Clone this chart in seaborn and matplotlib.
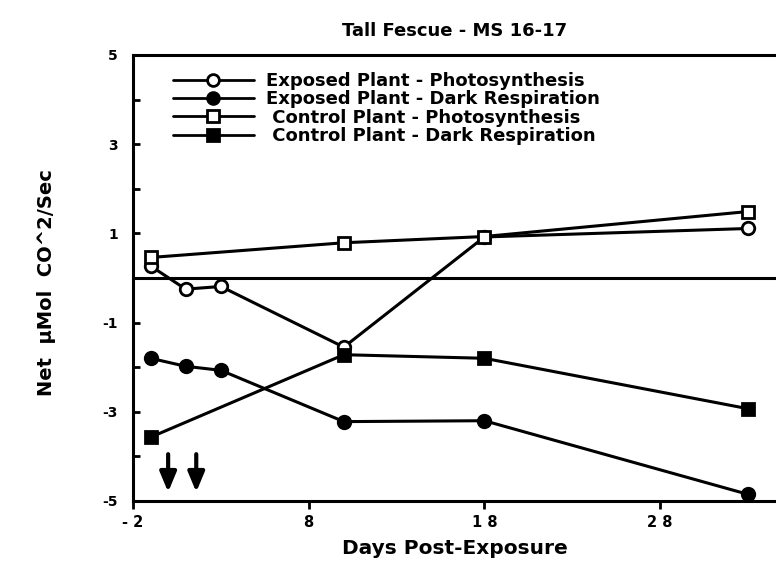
import matplotlib
matplotlib.use("Agg")
import matplotlib.pyplot as plt
import seaborn as sns
import pandas as pd
from matplotlib.lines import Line2D

# Measurement days
days_exposed = [-1, 1, 3, 10, 18, 33]
days_control = [-1, 10, 18, 33]

# Net CO2 exchange (µMol CO^2/Sec)
exposed_photo = [0.27, -0.25, -0.19, -1.55, 0.92, 1.11]
exposed_dark = [-1.80, -1.98, -2.07, -3.22, -3.20, -4.85]
control_photo = [0.46, 0.79, 0.93, 1.49]
control_dark = [-3.57, -1.72, -1.80, -2.93]

# Exposure events
exposure_days = [0.0, 1.6]

x_ticks = [-2, 8, 18, 28]
x_tick_labels = ["- 2", "8", "1 8", "2 8"]
y_ticks = [-5, -3, -1, 1, 3, 5]

labels = [
    "Exposed Plant - Photosynthesis",
    "Exposed Plant - Dark Respiration",
    " Control Plant - Photosynthesis",
    " Control Plant - Dark Respiration",
]

sns.set_style("ticks")
plt.rcParams["font.family"] = ["DejaVu Sans"]
plt.rcParams["font.weight"] = "bold"
for key in ["text.color", "axes.labelcolor", "xtick.color", "ytick.color", "axes.edgecolor"]:
    plt.rcParams[key] = "black"

fig = plt.figure(figsize=(7.76, 5.67), dpi=100)
ax = fig.add_axes([133 / 776, 1 - 501 / 567, 643 / 776, 446 / 567])

series = [
    (days_exposed, exposed_photo, "o", "white", 9),
    (days_exposed, exposed_dark, "o", "black", 9),
    (days_control, control_photo, "s", "white", 8.5),
    (days_control, control_dark, "s", "black", 8.5),
]

handles = []
for (xs, ys, mk, fc, ms), lab in zip(series, labels):
    df = pd.DataFrame({"day": xs, "value": ys})
    sns.lineplot(data=df, x="day", y="value", ax=ax, color="black",
                 linewidth=2.2, marker=mk, markersize=ms,
                 markerfacecolor=fc, markeredgecolor="black",
                 markeredgewidth=2, zorder=3)
    handles.append(Line2D([], [], color="black", linewidth=2, marker=mk,
                          markersize=ms - 0.5, markerfacecolor=fc,
                          markeredgecolor="black", markeredgewidth=2))

# zero reference line
ax.axhline(0, color="black", linewidth=2.2, zorder=2)

# exposure arrows
for d in exposure_days:
    ax.annotate("", xy=(d, -4.8), xytext=(d, -3.95),
                arrowprops=dict(arrowstyle="-|>,head_width=0.5,head_length=1.2",
                                color="black", lw=3, shrinkA=0, shrinkB=0))

ax.set_xlim(-2, 34.6)
ax.set_ylim(-5, 5)
ax.set_xticks(x_ticks)
ax.set_xticklabels(x_tick_labels, fontsize=10.5, fontweight="bold")
ax.set_yticks(y_ticks)
ax.set_yticklabels([str(v) for v in y_ticks], fontsize=10, fontweight="bold")
ax.set_yticks([-4, -2, 0, 2, 4], minor=True)
ax.tick_params(axis="y", which="both", direction="in", length=5, width=2, pad=11)
ax.tick_params(axis="x", which="major", direction="out", length=6, width=2, pad=4)

for side in ["left", "bottom", "top"]:
    ax.spines[side].set_linewidth(2.2)
ax.spines["right"].set_visible(False)

ax.set_xlabel("Days Post-Exposure", fontsize=14.5, fontweight="bold")
ax.xaxis.set_label_coords(0.5, -0.085)
ax.set_ylabel("Net  µMol  CO^2/Sec", fontsize=14, fontweight="bold")
ax.yaxis.set_label_coords(-0.12, 0.49)
ax.set_title("Tall Fescue - MS 16-17", fontsize=13, fontweight="bold", pad=14)

leg = ax.legend(handles, labels, loc="upper left", bbox_to_anchor=(0.062, 0.962),
                frameon=False, handlelength=4.5, handletextpad=0.67,
                labelspacing=0.02, borderpad=0, borderaxespad=0,
                prop={"family": "DejaVu Sans", "weight": "bold", "size": 13})

fig.savefig("out.png", dpi=100)
